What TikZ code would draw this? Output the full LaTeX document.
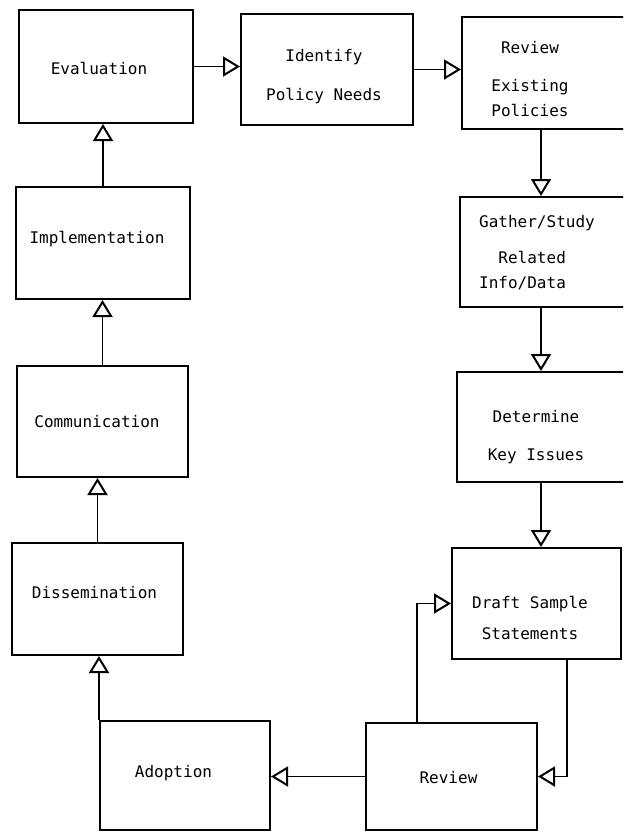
\documentclass[tikz,border=0pt]{standalone}
\usepackage{fontspec}
\setmonofont{DejaVu Sans Mono}
\usetikzlibrary{arrows.meta}

\begin{document}
\begin{tikzpicture}[x=0.5pt, y=-0.5pt,
    box/.style 2 args={draw, line width=1pt, inner sep=0pt, minimum width=#1, minimum height=#2},
    txt/.style={font=\ttfamily\fontsize{8}{12.5}\selectfont, align=center, inner sep=0pt},
    flow/.style={line width=0.8pt, -{Triangle[open, width=10pt, length=8.5pt, line width=1pt]}}]

  \clip (0,0) rectangle (623,832);

  \node[box={87pt}{56.5pt}]   (eval)   at (106,66.5)   {};
  \node[box={86pt}{55.5pt}]   (ident)  at (327,69.5)   {};
  \node[box={119pt}{56pt}]    (revex)  at (581,73)     {};
  \node[box={120pt}{55pt}]    (gather) at (580,252)    {};
  \node[box={121.5pt}{55pt}]  (determ) at (578.5,427)  {};
  \node[box={84.5pt}{55.5pt}] (draft)  at (536.5,603.5) {};
  \node[box={85.5pt}{53.5pt}] (review) at (451.5,776.5) {};
  \node[box={85pt}{54.5pt}]   (adopt)  at (185,775.5)  {};
  \node[box={85.5pt}{56pt}]   (diss)   at (97.5,599)   {};
  \node[box={85.5pt}{55.5pt}] (comm)   at (102.5,421.5) {};
  \node[box={87pt}{56pt}]     (impl)   at (103,243)    {};

  \node[txt] (eval-t)   at (99,68)     {Evaluation};
  \node[txt] (ident-t)  at (324,76.5)  {Identify\\[7pt]Policy Needs};
  \node[txt] (revex-t)  at (530,79.5)  {Review\\[6.5pt]Existing\\Policies};
  \node[txt, align=left] (gather-t) at (537,252.5) {Gather/Study\\[5.5pt]\phantom{Ga}Related\\Info/Data};
  \node[txt] (determ-t) at (536,437)   {Determine\\[6.5pt]Key Issues};
  \node[txt] (draft-t)  at (530,617.5) {Draft Sample\\[3pt]Statements};
  \node[txt] (review-t) at (448.5,778) {Review};
  \node[txt] (adopt-t)  at (173.5,773) {Adoption};
  \node[txt] (diss-t)   at (94.5,593)  {Dissemination};
  \node[txt] (comm-t)   at (97,422)    {Communication};
  \node[txt] (impl-t)   at (97,239)    {Implementation};

  \coordinate (rcol)  at (541,0);
  \coordinate (loopl) at (417,0);
  \coordinate (loopr) at (567,0);

  \draw[flow] (eval.east) -- (eval.east -| ident.west);
  \draw[flow] (ident.east) -- (ident.east -| revex.west);
  \draw[flow] (rcol |- revex.south) -- (rcol |- gather.north);
  \draw[flow] (rcol |- gather.south) -- (rcol |- determ.north);
  \draw[flow] (rcol |- determ.south) -- (rcol |- draft.north);
  \draw[flow] (loopr |- draft.south) |- (review.east);
  \draw[flow] (loopl |- review.north) |- (draft.west);
  \draw[flow] (review.west) -- (review.west -| adopt.east);
  \draw[flow] (adopt.north west) -- (adopt.north west |- diss.south);
  \draw[flow] (diss.north) -- (diss.north |- comm.south);
  \draw[flow] (comm.north) -- (comm.north |- impl.south);
  \draw[flow] (impl.north) -- (impl.north |- eval.south);
\end{tikzpicture}
\end{document}
